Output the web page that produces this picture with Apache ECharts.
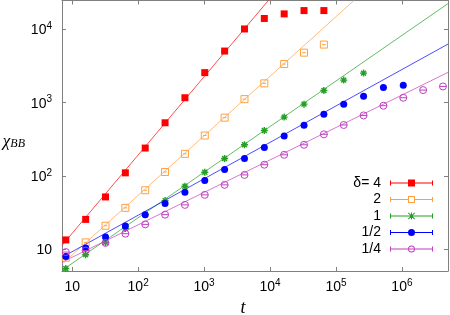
<!DOCTYPE html>
<html><head><meta charset="utf-8">
<script src="https://cdn.jsdelivr.net/npm/echarts@6/dist/echarts.min.js"></script>
<style>html,body{margin:0;padding:0;background:#fff}#c{width:450px;height:315px}</style>
</head><body><div id="c"></div>
<script>
// time values t = 2^3 ... 2^22
const T = [8,16,32,64,128,256,512,1024,2048,4096,8192,16384,32768,65536,131072,262144,524288,1048576,2097152,4194304];
const seriesNames = ['δ= 4','2','1','1/2','1/4'];
// chi_BB values (start at t=8)
const yD4  = [13.3,25.4,51.5,110,240,532,1170,2580,5090,10200,14200,16400,18200,18200];
const yD2  = [7.6,12.3,20.8,36.5,63.5,113,200,356,625,1120,1840,3380,4840,6240];
const yD1  = [5.42,8.36,12.3,19.1,29.5,45.9,72.1,112,173,266,418,636,957,1470,2040,2540];
const yD12 = [7.88,10.3,14.6,20.6,29.5,41.8,59.6,86.2,122,173,244,351,493,698,957,1230,1620,1740];
const yD14 = [9.07,9.5,12.1,16.2,21.7,29.5,40.1,55.0,75.3,103,142,194,266,370,496,670,910,1170,1490,1670];
// fitted power-law lines: end points read at the plot borders
const fitD4  = [[7, 11.2],[9420, 25000]];
const fitD2  = [[7, 6.2],[187000, 25000]];
const fitD1  = [[7, 5.1],[5e6, 22700]];
const fitD12 = [[7, 7.7],[5e6, 6340]];
const fitD14 = [[7, 6.58],[5e6, 2600]];

const COLORS = ['#ff0000','#ffa040','#22a022','#0000ff','#c040c0'];
const pts = ys => ys.map((y,i)=>[T[i], y]);

const SQBAR = 'path://M0,0 L10,0 L10,10 L0,10 Z M2.5,5 L7.5,5';
const STAR = 'path://M5,0 L5,10 M0,5 L10,5 M1.5,1.5 L8.5,8.5 M8.5,1.5 L1.5,8.5';
const CIRC = 'path://M0,5 A5,5 0 1 1 10,5 A5,5 0 1 1 0,5 Z M0,5 L10,5';

// legend keys: error-bar style line with end caps and the marker (43 x 7 box)
const CAPLINE = 'M0,1 H1 V3 H42 V1 H43 V6 H42 V4 H1 V6 H0 Z ';
const LEG_ICONS = [
  'path://M0,1 H1 V3 H18 V0 H25 V3 H42 V1 H43 V6 H42 V4 H25 V7 H18 V4 H1 V6 H0 Z',
  'path://M0,1 H1 V3 H18 V4 H1 V6 H0 Z M25,3 H42 V1 H43 V6 H42 V4 H25 Z M18,0 H25 V7 H18 Z M19,1 V6 H24 V1 Z',
  'path://' + CAPLINE + 'M18,0.7 L18.7,0 L25,6.3 L24.3,7 Z M24.3,0 L25,0.7 L18.7,7 L18,6.3 Z M21,0 H22 V7 H21 Z',
  'path://' + CAPLINE + 'M18,3.5 A3.5,3.5 0 1 1 25,3.5 A3.5,3.5 0 1 1 18,3.5 Z',
  'path://' + CAPLINE + 'M18,3.5 A3.5,3.5 0 1 1 25,3.5 A3.5,3.5 0 1 1 18,3.5 Z M19,3.5 A2.5,2.5 0 1 0 24,3.5 A2.5,2.5 0 1 0 19,3.5 Z'
];

function powLabel(v){
  const e = Math.log10(v), r = Math.round(e);
  if (Math.abs(e-r) > 1e-6) return '';
  return r === 1 ? '{b|10}' : '{b|10}{s|' + r + '}';
}
const rich = {
  b:{fontSize:14, fontFamily:'Liberation Sans', color:'#000', padding:[2,0,0,0]},
  s:{fontSize:10, fontFamily:'Liberation Sans', color:'#000', verticalAlign:'top'}
};
const AX = '#808080';
function xAx(pos, show){
  return {type:'log', logBase:10, min:7, max:5e6, position:pos, gridIndex:0,
    axisLine:{show:true, onZero:false, lineStyle:{color:AX, width:1}},
    axisTick:{show:true, inside:true, length:4, lineStyle:{color:AX}},
    minorTick:{show:false}, splitLine:{show:false},
    axisLabel:{show:show, margin:7, formatter:powLabel, rich:rich},
    name: show ? 't' : '', nameLocation:'middle', nameGap:24,
    nameTextStyle:{fontSize:18, fontStyle:'italic', fontFamily:'Liberation Serif', color:'#000', padding:[0,24,0,0]}
  };
}
function yAx(pos, show){
  return {type:'log', logBase:10, min:5, max:25000, position:pos, gridIndex:0,
    axisLine:{show:true, onZero:false, lineStyle:{color:AX, width:1}},
    axisTick:{show:true, inside:true, length:4, lineStyle:{color:AX}},
    minorTick:{show:false}, splitLine:{show:false},
    axisLabel:{show:show, margin:10, formatter:powLabel, rich:rich},
    name: show ? '{c|χ}{s|BB}' : '', nameLocation:'middle', nameRotate:0, nameGap:59,
    nameTextStyle:{align:'left', verticalAlign:'middle', padding:[12,0,0,0], rich:{
      c:{fontSize:17, fontStyle:'italic', fontFamily:'Liberation Serif', color:'#000'},
      s:{fontSize:12, fontStyle:'italic', fontFamily:'Liberation Serif', color:'#000', padding:[5,0,0,0]}
    }}
  };
}

const fits = [fitD4, fitD2, fitD1, fitD12, fitD14];
const datas = [yD4, yD2, yD1, yD12, yD14];
const ptSym = ['rect', SQBAR, STAR, 'circle', CIRC];
const ptFill = [COLORS[0], 'rgba(0,0,0,0)', 'rgba(0,0,0,0)', COLORS[3], 'rgba(0,0,0,0)'];
const ptBW = [0, 1, 1.4, 0, 1];

const series = [];
for (let i=0;i<5;i++){
  series.push({
    type:'line', name:seriesNames[i], data:fits[i], xAxisIndex:0, yAxisIndex:0,
    showSymbol:false, symbol:'none', clip:true, silent:true, z:2,
    itemStyle:{color:COLORS[i]},
    lineStyle:{color:COLORS[i], width:1, opacity:0.7}
  });
}
for (let i=0;i<5;i++){
  series.push({
    type:'scatter', name:seriesNames[i], data:pts(datas[i]), xAxisIndex:0, yAxisIndex:0,
    symbol:ptSym[i], symbolSize:7, silent:true, z:3,
    itemStyle:{color:ptFill[i], borderColor:COLORS[i], borderWidth:ptBW[i], opacity:1}
  });
}

const chart = echarts.init(document.getElementById('c'), null, {renderer:'canvas'});
chart.setOption({
  animation:false,
  backgroundColor:'#fff',
  grid:{left:62, right:2, top:0.5, bottom:44, containLabel:false, outerBoundsMode:'none'},
  xAxis:[xAx('bottom', true), xAx('top', false)],
  yAxis:[yAx('left', true), yAx('right', false)],
  legend:{
    data:seriesNames.map((n,i)=>({name:n, icon:LEG_ICONS[i], itemStyle:{color:COLORS[i], borderWidth:0, opacity:1}})),
    orient:'vertical', right:17, top:176, align:'right',
    itemWidth:43, itemHeight:7, itemGap:2.5, padding:0, selectedMode:false, symbolKeepAspect:true,
    textStyle:{fontSize:14, fontFamily:'Liberation Sans', color:'#000', lineHeight:13, padding:[0,4,0,0]}
  },
  series:series
});
</script>
</body></html>
